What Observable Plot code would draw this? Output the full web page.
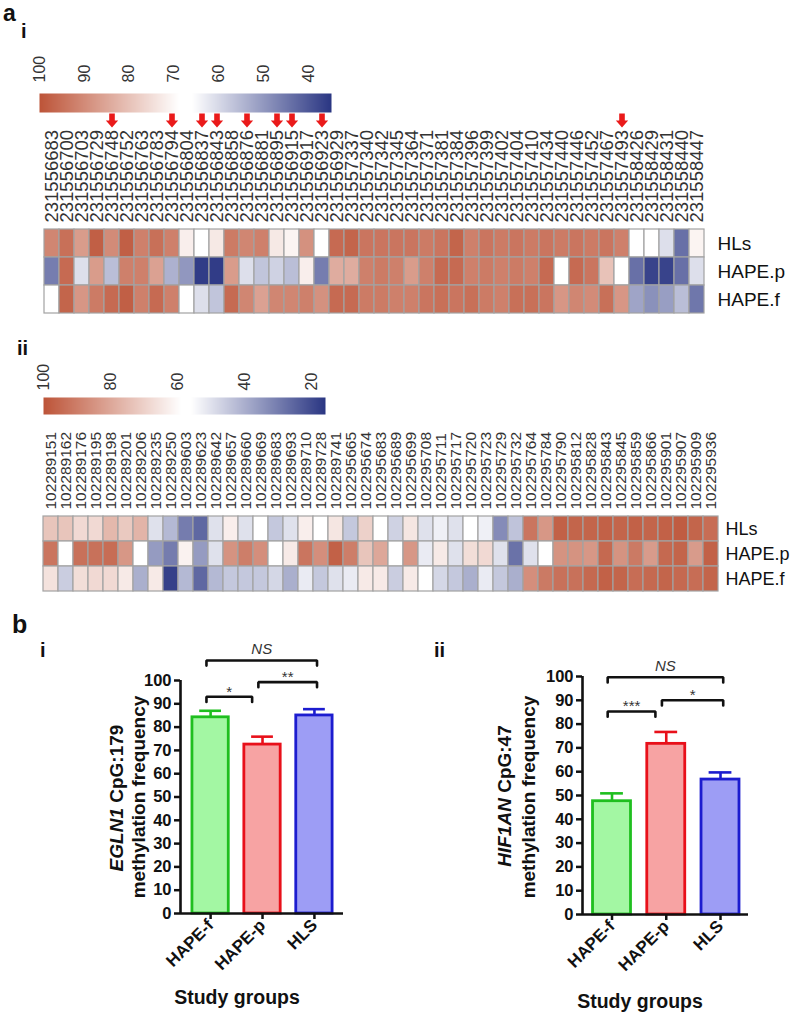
<!DOCTYPE html>
<html><head><meta charset="utf-8">
<script src="https://cdn.jsdelivr.net/npm/d3@7"></script>
<script src="https://cdn.jsdelivr.net/npm/@observablehq/plot@0.6"></script>
<style>
body{margin:0;background:#fff;}
#page{position:relative;width:797px;height:1018px;overflow:hidden;background:#fff;font-family:"Liberation Sans",Arial,sans-serif;}
.w{position:absolute;}
.w svg{display:block;overflow:visible;}
#overlay{position:absolute;left:0;top:0;pointer-events:none;}
</style></head><body><div id="page"></div>
<script>
// ---------- DATA ----------
const rowsHM = ["HLs", "HAPE.p", "HAPE.f"];

const sitesI = [231556683,231556700,231556703,231556729,231556748,231556752,231556763,231556783,231556794,231556804,
  231556837,231556843,231556858,231556876,231556881,231556895,231556915,231556917,231556923,231556929,
  231557337,231557340,231557342,231557345,231557364,231557371,231557381,231557384,231557396,231557399,
  231557402,231557404,231557410,231557434,231557440,231557446,231557452,231557467,231557493,
  231558426,231558429,231558431,231558440,231558447];
const hlsI   = [91,95,87,98,90,98,92,95,92,72, 68,73,93,91,92,73,71,89,69,96, 97,94,94,94,94,93,94,97,92,94, 93,94,93,94,93,94,93,94,92,67, 67,61,44,71];
const hapepI = [46,96,61,87,56,92,92,86,54,50, 36,36,87,61,57,59,56,72,46,84, 84,92,93,92,87,92,96,96,92,93, 92,93,92,96,68,96,94,80,67,44, 37,37,44,61];
const hapefI = [66,97,88,93,96,98,92,96,92,67, 61,57,96,91,86,91,91,92,89,96, 96,93,93,92,92,94,95,94,95,93, 92,95,95,94,88,91,90,95,88,52, 49,51,56,45];
const arrowSitesI = [231556748,231556794,231556837,231556843,231556876,231556895,231556915,231556923,231557493];
const colorTicksI = [100,90,80,70,60,50,40];
const colorDomainI = [35, 66, 69, 100];

const sitesII = [102289151,102289162,102289176,102289195,102289198,102289201,102289206,102289235,102289250,102289603,
  102289623,102289642,102289657,102289660,102289669,102289683,102289693,102289710,102289728,102289741,
  102295665,102295674,102295683,102295689,102295699,102295708,102295711,102295717,102295720,102295723,
  102295729,102295732,102295764,102295784,102295790,102295812,102295828,102295843,102295845,102295859,
  102295866,102295901,102295907,102295909,102295936];
const hlsII   = [73,73,68,68,76,72,77,50,42,30, 26,50,63,50,58,45,50,63,59,65, 45,70,58,47,65,50,53,50,57,53, 33,44,92,84,97,96,96,97,96,97, 96,97,98,96,94];
const hapepII = [92,58,93,93,94,84,58,36,30,62, 36,50,85,90,86,58,64,92,86,97, 90,73,80,58,84,52,64,50,67,68, 50,28,50,58,85,85,84,95,85,91, 83,95,96,83,97];
const hapefII = [66,46,67,68,68,64,40,64,18,42, 26,42,45,45,45,48,40,52,45,50, 52,64,64,46,64,58,48,45,40,52, 45,40,86,91,93,93,95,97,96,94, 95,96,95,94,96];
const colorTicksII = [100,80,60,40,20];
const colorDomainII = [16, 56, 59, 100];

const groups = ["HAPE-f", "HAPE-p", "HLS"];
const meansI = [84.2, 72.5, 85.0];
const semsI  = [2.8, 3.4, 2.7];
const meansII = [47.6, 71.7, 56.7];
const semsII  = [3.3, 5.0, 3.0];
const barFills = ["#a3f7a3", "#f7a3a3", "#9d9df5"];
const barStrokes = ["#1fbf1f", "#e8101a", "#1c1ccf"];
const bracketsI = [{from:0,to:2,y:108.6,label:"NS"},{from:0,to:1,y:93,label:"*"},{from:1,to:2,y:99.3,label:"**"}];
const bracketsII = [{from:0,to:2,y:99.7,label:"NS"},{from:0,to:1,y:85.3,label:"***"},{from:1,to:2,y:90,label:"*"}];

// ---------- HELPERS ----------
const FONT = "Liberation Sans, Arial, sans-serif";
const page = document.getElementById("page");
function place(node, left, top) {
  const d = document.createElement("div");
  d.className = "w"; d.style.left = left + "px"; d.style.top = top + "px";
  d.appendChild(node); page.appendChild(d);
}
const colorOf = (domain) => ({type: "linear", domain, range: ["#2a3683", "#ffffff", "#ffffff", "#bd5438"], interpolate: "rgb"});

const arrowSymbol = {
  draw(ctx, size) {
    const h = Math.sqrt(size / Math.PI);
    ctx.moveTo(-0.4*h, -h); ctx.lineTo(0.4*h, -h); ctx.lineTo(0.4*h, 0);
    ctx.lineTo(0.88*h, 0); ctx.lineTo(0, h); ctx.lineTo(-0.88*h, 0);
    ctx.lineTo(-0.4*h, 0); ctx.closePath();
  }
};

function colorbar({ticks, domain, left, top, barWidth, marginTop, barHeight, fontSize, tickPadding}) {
  const lo = domain[0], hi = domain[domain.length - 1];
  return place(Plot.plot({
    width: left + barWidth + 10, height: marginTop + barHeight + 3,
    marginLeft: left, marginRight: 10, marginTop, marginBottom: 3,
    x: {domain: [hi, lo], axis: null},
    y: {domain: [0, 1], axis: null},
    color: colorOf(domain),
    style: {fontFamily: FONT, color: "#333", background: "transparent"},
    marks: [
      Plot.raster({x1: hi, x2: lo, y1: 0, y2: 1, fill: (x, y) => x, pixelSize: 1}),
      Plot.axisX({anchor: "top", ticks, tickRotate: -90, tickSize: 0, tickPadding, fontSize, label: null})
    ]
  }), 0, top);
}

function heatmap({sites, values, domain, top, height, marginTop, marginLeft, marginRight, marginBottom, labelSize, rowSize, arrows, arrowDy}) {
  const keys = sites.map(String);
  const data = rowsHM.flatMap((r, k) => keys.map((s, j) => ({site: s, row: r, value: values[k][j]})));
  const marks = [
    Plot.cell(data, {x: "site", y: "row", fill: "value", stroke: "#a2a2a2", strokeWidth: 1.2, inset: 0}),
    Plot.axisX({anchor: "top", tickRotate: -90, tickSize: 0, tickPadding: 6, fontSize: labelSize, label: null}),
    Plot.axisY({anchor: "right", tickSize: 0, tickPadding: 7, fontSize: rowSize, label: null, fill: "#111"})
  ];
  if (arrows) marks.push(Plot.dot(arrows, {x: d => String(d), frameAnchor: "top", dy: arrowDy, symbol: arrowSymbol, r: 7, fill: "#ea1a1a", stroke: "none"}));
  place(Plot.plot({
    width: 797, height, marginTop, marginLeft, marginRight, marginBottom,
    x: {domain: keys, padding: 0, axis: null},
    y: {domain: rowsHM, padding: 0, axis: null},
    color: colorOf(domain),
    style: {fontFamily: FONT, color: "#333", background: "transparent"},
    marks
  }), 0, top);
}

function barChart({means, sems, brackets, left, top, width, height, marginLeft, marginRight, marginTop, marginBottom, xDomain}) {
  const data = groups.map((g, i) => ({g, i, mean: means[i], sem: sems[i], fill: barFills[i], stroke: barStrokes[i]}));
  const last = groups.length - 1;
  const br = brackets.map((b, k) => ({...b, x1: b.from - 0.08, x2: b.to + (b.to === last ? 0.05 : -0.2)}));
  const pts = br.flatMap((b, k) => [
    {id: k, x: b.x1, y: b.y - 2.2}, {id: k, x: b.x1, y: b.y}, {id: k, x: b.x2, y: b.y}, {id: k, x: b.x2, y: b.y - 2.2}
  ]);
  place(Plot.plot({
    width, height, marginLeft, marginRight, marginTop, marginBottom,
    x: {domain: xDomain, axis: null},
    y: {domain: [0, 100], axis: null},
    color: {type: "identity"},
    style: {fontFamily: FONT, color: "#111", background: "transparent"},
    marks: [
      Plot.ruleX(data, {x: "i", y1: "mean", y2: d => d.mean + d.sem, stroke: "stroke", strokeWidth: 2.6}),
      Plot.ruleY(data, {y: d => d.mean + d.sem, x1: d => d.i - 0.21, x2: d => d.i + 0.21, stroke: "stroke", strokeWidth: 2.6}),
      Plot.rectY(data, {x1: d => d.i - 0.35, x2: d => d.i + 0.35, y1: 0, y2: "mean", fill: "fill", stroke: "stroke", strokeWidth: 2.8}),
      Plot.axisY({ticks: d3.range(0, 101, 10), tickSize: 6, tickPadding: 3, fontSize: 16.5, fontWeight: "bold", strokeWidth: 2.5, label: null}),
      Plot.axisX({ticks: groups.map((g, i) => i), tickFormat: i => groups[i], tickRotate: -45, tickSize: 6, tickPadding: 3, fontSize: 17, fontWeight: "bold", strokeWidth: 2.5, label: null}),
      Plot.ruleX([xDomain[0]], {y1: 0, y2: 100, strokeWidth: 2.6}),
      Plot.ruleY([0], {strokeWidth: 2.6}),
      Plot.line(pts, {x: "x", y: "y", z: "id", stroke: "#111", strokeWidth: 2.6, strokeLinejoin: "miter"}),
      Plot.text(br.filter(b => b.label === "NS"), {x: b => (b.x1 + b.x2) / 2, y: "y", text: "label", lineAnchor: "bottom", dy: -6, fontSize: 15, fontStyle: "italic", fill: "#333"}),
      Plot.text(br.filter(b => b.label !== "NS"), {x: b => (b.x1 + b.x2) / 2, y: "y", text: "label", lineAnchor: "bottom", dy: 0, fontSize: 15, fill: "#333"})
    ]
  }), left, top);
}

// ---------- PANELS ----------
colorbar({ticks: colorTicksI, domain: colorDomainI, left: 39, top: 45, barWidth: 292, marginTop: 48, barHeight: 19, fontSize: 16, tickPadding: 11});
heatmap({sites: sitesI, values: [hlsI, hapepI, hapefI], domain: colorDomainI, top: 100, height: 220,
  marginTop: 128, marginLeft: 38, marginRight: 87, marginBottom: 6, labelSize: 18.5, rowSize: 19,
  arrows: arrowSitesI, arrowDy: -108});

colorbar({ticks: colorTicksII, domain: colorDomainII, left: 43, top: 355, barWidth: 282, marginTop: 42, barHeight: 17, fontSize: 16, tickPadding: 7});
heatmap({sites: sitesII, values: [hlsII, hapepII, hapefII], domain: colorDomainII, top: 420, height: 180,
  marginTop: 95, marginLeft: 43, marginRight: 79, marginBottom: 8, labelSize: 15.5, rowSize: 18});

barChart({means: meansI, sems: semsI, brackets: bracketsI, left: 0, top: 600, width: 380, height: 418,
  marginLeft: 180, marginRight: 37, marginTop: 80, marginBottom: 105, xDomain: [-0.58, 2.56]});
barChart({means: meansII, sems: semsII, brackets: bracketsII, left: 400, top: 600, width: 397, height: 418,
  marginLeft: 182, marginRight: 49, marginTop: 76, marginBottom: 104, xDomain: [-0.544, 2.516]});

// ---------- TEXT OVERLAY ----------
const NS = "http://www.w3.org/2000/svg";
const ov = document.createElementNS(NS, "svg");
ov.setAttribute("id", "overlay"); ov.setAttribute("width", 797); ov.setAttribute("height", 1018);
ov.setAttribute("font-family", FONT);
page.appendChild(ov);
function txt(x, y, parts, {size = 16, weight = "bold", anchor = "start", rotate = 0, baseline = null} = {}) {
  const t = document.createElementNS(NS, "text");
  t.setAttribute("transform", `translate(${x},${y}) rotate(${rotate})`);
  t.setAttribute("font-size", size); t.setAttribute("font-weight", weight);
  t.setAttribute("text-anchor", anchor); t.setAttribute("fill", "#111");
  if (baseline) t.setAttribute("dominant-baseline", baseline);
  for (const p of [].concat(parts)) {
    const s = document.createElementNS(NS, "tspan");
    if (typeof p === "string") s.textContent = p; else { s.textContent = p.t; if (p.i) s.setAttribute("font-style", "italic"); }
    t.appendChild(s);
  }
  ov.appendChild(t);
}
txt(3, 21, "a", {size: 23});
txt(21, 38, "i", {size: 20});
txt(17, 355, "ii", {size: 20});
txt(12, 633, "b", {size: 25});
txt(40, 657, "i", {size: 20});
txt(434, 657, "ii", {size: 20});
txt(116, 798, [{t: "EGLN1", i: true}, " CpG:179"], {size: 19, anchor: "middle", rotate: -90, baseline: "central"});
txt(138, 797, "methylation frequency", {size: 19, anchor: "middle", rotate: -90, baseline: "central"});
txt(504, 796, [{t: "HIF1AN", i: true}, " CpG:47"], {size: 19, anchor: "middle", rotate: -90, baseline: "central"});
txt(528, 797, "methylation frequency", {size: 19, anchor: "middle", rotate: -90, baseline: "central"});
txt(237, 1004, "Study groups", {size: 19.5, anchor: "middle"});
txt(640, 1008, "Study groups", {size: 19.5, anchor: "middle"});
</script></body></html>
